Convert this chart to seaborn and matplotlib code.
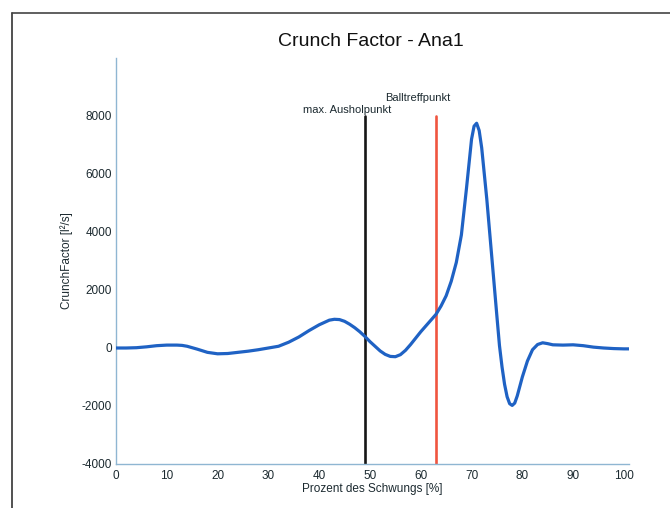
import matplotlib
matplotlib.use('Agg')
import matplotlib.pyplot as plt
from matplotlib.lines import Line2D
import seaborn as sns
import pandas as pd

# Curve values (percent of swing vs. crunch factor)
prozent = [0, 2, 4, 6, 8, 10, 12, 13, 14, 16, 18, 20, 22, 24, 26, 28, 30, 32, 34, 36,
           38, 40, 42, 43, 44, 45, 46, 47, 48, 49, 50, 51, 52, 53, 54, 55, 56, 57, 58,
           59, 60, 61, 62, 63, 64, 65, 66, 67, 68, 69, 70, 70.5, 71, 71.5, 72, 73, 74,
           75, 75.5, 76, 76.5, 77, 77.5, 78, 78.5, 79, 80, 81, 82, 83, 84, 85, 86, 88,
           90, 92, 94, 96, 98, 100, 101]
crunch = [0, 0, 10, 40, 80, 100, 100, 90, 60, -40, -150, -200, -190, -150, -110, -60,
          0, 60, 200, 380, 600, 800, 960, 990, 980, 920, 820, 700, 560, 400, 220, 60,
          -100, -220, -290, -300, -230, -80, 120, 340, 560, 760, 960, 1160, 1450, 1800,
          2300, 2950, 3900, 5500, 7200, 7650, 7750, 7500, 6900, 5140, 3110, 1080, 80,
          -650, -1250, -1680, -1920, -1980, -1900, -1650, -1000, -450, -60, 120, 180,
          150, 110, 100, 110, 80, 30, 0, -20, -30, -30]

ausholpunkt = 49
balltreffpunkt = 63
x_ticks = list(range(0, 101, 10))
y_ticks = list(range(-4000, 8001, 2000))

df = pd.DataFrame({'Prozent': prozent, 'Crunch': crunch})

sns.set_style('white')
plt.rcParams['font.family'] = ['Liberation Sans', 'DejaVu Sans']
plt.rcParams['axes.unicode_minus'] = False

fig = plt.figure(figsize=(6.7, 5.08), dpi=100)
ax = fig.add_axes([116 / 670, 1 - 464 / 508, (629 - 116) / 670, (464 - 58) / 508])

axis_col = '#8fb6d2'
text_col = '#1c2a30'

# marker lines
ax.plot([ausholpunkt, ausholpunkt], [-4000, 8000], color='#161616', lw=1.9, zorder=2)
ax.plot([balltreffpunkt, balltreffpunkt], [-4000, 8000], color='#f0553f', lw=1.9, zorder=2)

sns.lineplot(data=df, x='Prozent', y='Crunch', ax=ax, color='#1f62c4', lw=2.3, zorder=3)

ax.text(54.2, 8200, 'max. Ausholpunkt', ha='right', va='center', fontsize=8, color=text_col)
ax.text(53.0, 8620, 'Balltreffpunkt', ha='left', va='center', fontsize=8, color=text_col)

ax.set_xlim(0, 101)
ax.set_ylim(-4000, 10000)
ax.set_xticks(x_ticks)
ax.set_yticks(y_ticks)
ax.tick_params(direction='in', length=4, width=0.8, color=axis_col, labelsize=8.5,
               labelcolor=text_col, pad=3)
ax.tick_params(axis='x', pad=4)

for side in ['top', 'right']:
    ax.spines[side].set_visible(False)
for side in ['left', 'bottom']:
    ax.spines[side].set_color(axis_col)
    ax.spines[side].set_linewidth(1.0)

ax.set_xlabel('Prozent des Schwungs [%]', fontsize=8.5, color=text_col, labelpad=1)
ax.set_ylabel('CrunchFactor [l²/s]', fontsize=8.5, color=text_col, labelpad=6)
fig.text(371 / 670, 1 - 42 / 508, 'Crunch Factor - Ana1', ha='center', va='center',
         fontsize=14, color='#111111')

# outer frame (open at right and bottom)
fx = 12 / 670
fy = 1 - 13 / 508
fig.add_artist(Line2D([fx, fx], [0, fy], transform=fig.transFigure, color='#333333', lw=1.2))
fig.add_artist(Line2D([fx, 1], [fy, fy], transform=fig.transFigure, color='#444444', lw=1.2))

fig.savefig('out.png', dpi=100)
